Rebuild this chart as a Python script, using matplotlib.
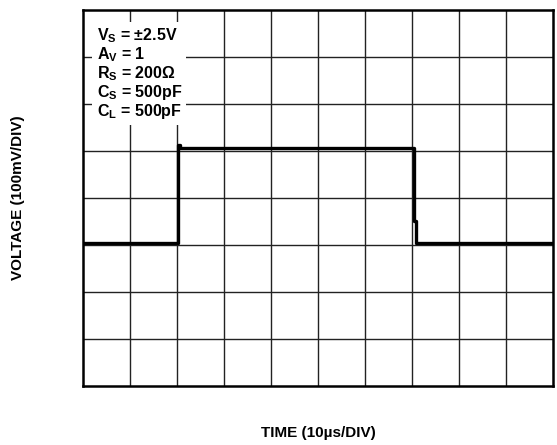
import matplotlib.pyplot as plt

plt.rcParams['font.family'] = ['Liberation Sans', 'DejaVu Sans']
plt.rcParams['mathtext.fontset'] = 'custom'
plt.rcParams['mathtext.rm'] = 'Liberation Sans'
plt.rcParams['mathtext.bf'] = 'Liberation Sans:bold'

# scope trace, in divisions (10 x 8 graticule)
t_div = [0.0, 2.02, 2.02, 2.06, 2.06, 7.04, 7.04, 7.08, 7.08, 10.0]
v_div = [3.04, 3.04, 5.12, 5.12, 5.06, 5.06, 3.50, 3.50, 3.04, 3.04]

cond_lines = ['V$_\\mathbf{S}$ = ±2.5V', 'A$_\\mathbf{V}$ = 1',
              'R$_\\mathbf{S}$ = 200Ω', 'C$_\\mathbf{S}$ = 500pF',
              'C$_\\mathbf{L}$ = 500pF']

fig = plt.figure(figsize=(5.57, 4.45), dpi=100)
ax = fig.add_axes([0.149, 0.1326, 0.844, 0.845])

ax.set_xlim(0, 10)
ax.set_ylim(0, 8)
for x in range(1, 10):
    ax.axvline(x, color='#222222', lw=1.0, zorder=1)
for y in range(1, 8):
    ax.axhline(y, color='#222222', lw=1.0, zorder=1)

ax.plot(t_div, v_div, color='black', lw=2.4, zorder=3)

ax.set_xticks([])
ax.set_yticks([])
for s in ax.spines.values():
    s.set_linewidth(1.8)

ax.text(0.29, 7.66, '\n'.join(cond_lines), fontsize=11.5, fontweight='bold',
        va='top', ha='left', linespacing=1.02, zorder=4,
        bbox=dict(facecolor='white', edgecolor='none', pad=3))

fig.text(0.571, 0.027, 'TIME (10µs/DIV)', fontsize=11, fontweight='bold',
         ha='center', va='center')
fig.text(0.033, 0.555, 'VOLTAGE (100mV/DIV)', fontsize=11, fontweight='bold',
         ha='center', va='center', rotation=90)

fig.savefig('out.png', dpi=100)
